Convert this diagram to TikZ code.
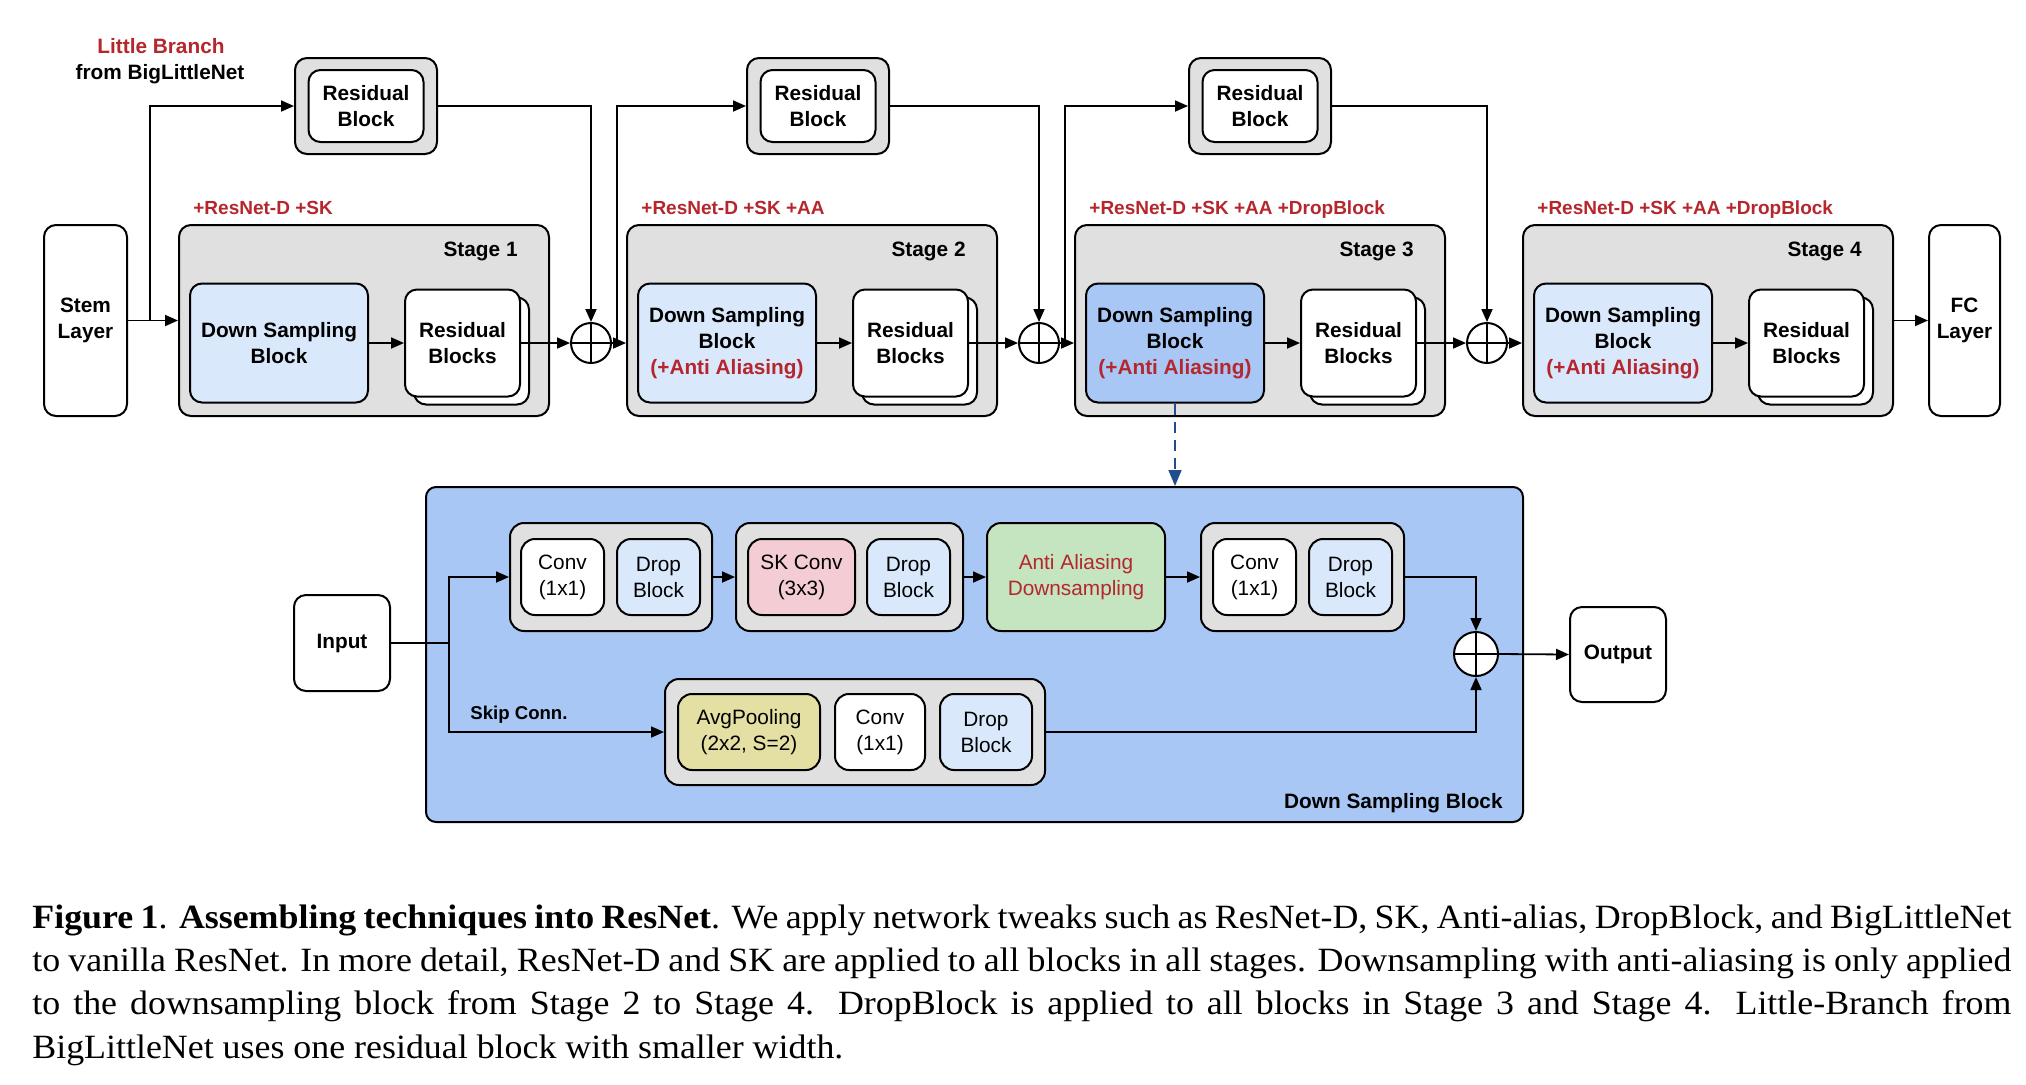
\documentclass[tikz,border=0pt]{standalone}
\usepackage{fontspec}
\setmainfont{Liberation Serif}
\newfontfamily\capfont[FakeStretch=1.055]{Liberation Serif}
\newfontfamily\arial{Liberation Sans}
\usetikzlibrary{arrows.meta,calc}
\definecolor{grayfill}{HTML}{E0E0E0}
\definecolor{lblue}{HTML}{DAE8FC}
\definecolor{mblue}{HTML}{A8C7F5}
\definecolor{pinkf}{HTML}{F3CDD3}
\definecolor{greenf}{HTML}{C5E4C0}
\definecolor{yellowf}{HTML}{E4DFA2}
\definecolor{redt}{HTML}{B5272D}
\definecolor{dashb}{HTML}{1F4E8C}
\begin{document}
\begin{tikzpicture}[x=0.5pt,y=-0.5pt,
  wh/.style 2 args={minimum width=#1pt, minimum height=#2pt},
  bfnt/.style={font=\arial\fontsize{10.4}{13}\selectfont\bfseries},
  rfnt/.style={font=\arial\fontsize{10.4}{13}\selectfont},
  grp/.style={draw, line width=1pt, fill=grayfill, rounded corners=6pt, inner sep=0pt},
  blk/.style={draw, line width=1pt, fill=white, rounded corners=6pt, inner sep=0pt, align=center},
  conn/.style={line width=0.9pt, -{Triangle[length=6.5pt,width=5.5pt]}},
  plain/.style={line width=0.9pt},
  oplus/.style={circle, draw, line width=1pt, fill=white, inner sep=0pt, minimum size=#1,
    path picture={\draw[line width=1pt] (path picture bounding box.north) -- (path picture bounding box.south)
      (path picture bounding box.west) -- (path picture bounding box.east);}},
  redlab/.style={font=\arial\fontsize{9.5}{11}\selectfont\bfseries, text=redt, inner sep=0pt},
  stlab/.style={bfnt, inner sep=0pt},
  dashconn/.style={line width=0.8pt, draw=dashb, dash pattern=on 5.5pt off 3.5pt, -{Triangle[length=8pt,width=6.5pt,fill=dashb]}}
]
\useasboundingbox (0,0) rectangle (2026,1084);
\fill[white] (0,0) rectangle (2026,1084);

% ---------- top texts ----------
\node[bfnt, text=redt, anchor=base, inner sep=0pt] (lb1) at (161,53) {Little Branch};
\node[bfnt, anchor=base, inner sep=0pt] (lb2) at (160,79) {from BigLittleNet};

% ---------- little branch residual blocks ----------
\foreach \i/\x in {1/366, 2/818, 3/1260} {
  \node[grp, wh={71}{48}] (rg\i) at (\x,106) {};
  \node[blk, bfnt, wh={57.5}{36}] (rgi\i) at (\x,106) {Residual\\Block};
}

% ---------- stem and FC ----------
\node[blk, bfnt, wh={41.5}{95.5}] (stem) at (85.5,320.5) {Stem\\Layer};
\node[blk, bfnt, wh={35.5}{95.5}] (fc) at (1964.5,320.5) {FC\\Layer};

% ---------- stages ----------
\foreach \i/\c/\lab in {1/364/{+ResNet-D +SK}, 2/812/{+ResNet-D +SK +AA}, 3/1260/{+ResNet-D +SK +AA +DropBlock}, 4/1708/{+ResNet-D +SK +AA +DropBlock}} {
  \node[grp, wh={185}{95.5}] (st\i) at (\c,320.5) {};
  \node[stlab, anchor=base east] (stl\i) at (\c+154,256) {Stage \i};
  \node[redlab, anchor=base west] (rl\i) at (\c-171,214) {\lab};
  \node[blk, wh={57.5}{53.5}] (rb\i) at (\c+107.5,351) {};
  \node[blk, bfnt, wh={57.5}{53.5}] (rf\i) at (\c+98.5,343) {Residual\\Blocks};
}
\node[blk, bfnt, fill=lblue, wh={89}{59.5}] (dsb1) at (279,343) {Down Sampling\\Block};
\node[blk, bfnt, fill=lblue, wh={89}{59.5}] (dsb2) at (727,343) {Down Sampling\\Block\\\textcolor{redt}{(+Anti Aliasing)}};
\node[blk, bfnt, fill=mblue, wh={89}{59.5}] (dsb3) at (1175,343) {Down Sampling\\Block\\\textcolor{redt}{(+Anti Aliasing)}};
\node[blk, bfnt, fill=lblue, wh={89}{59.5}] (dsb4) at (1623,343) {Down Sampling\\Block\\\textcolor{redt}{(+Anti Aliasing)}};

% ---------- plus nodes ----------
\node[oplus=20pt] (p1) at (591,343) {};
\node[oplus=20pt] (p2) at (1039,343) {};
\node[oplus=20pt] (p3) at (1487,343) {};

% ---------- top connectors ----------
\coordinate (b1) at (150,320.5);
\coordinate (b2) at (617,343);
\coordinate (b3) at (1065,343);
\draw[conn] (stem.east) -- (st1.west);
\draw[conn] (b1) |- (rg1.west);
\draw[conn] (b2) |- (rg2.west);
\draw[conn] (b3) |- (rg3.west);
\draw[conn] (rg1.east) -| (p1.north);
\draw[conn] (rg2.east) -| (p2.north);
\draw[conn] (rg3.east) -| (p3.north);
\foreach \i in {1,2,3,4} { \draw[conn] (dsb\i.east) -- (rf\i.west); }
\draw[conn] (rf1.east) -- (p1.west);
\draw[conn] (rf2.east) -- (p2.west);
\draw[conn] (rf3.east) -- (p3.west);
\draw[conn] (p1.east) -- (p1 -| st2.west);
\draw[conn] (p2.east) -- (p2 -| st3.west);
\draw[conn] (p3.east) -- (p3 -| st4.west);
\draw[conn] (st4.east) -- (fc.west);

% ---------- lower detail ----------
\node[draw, line width=1pt, fill=mblue, rounded corners=5pt, inner sep=0pt, wh={548.5}{167.5}] (big) at (974.5,654.5) {};
\node[bfnt, anchor=base east, inner sep=0pt] (bigl) at (1503,808) {Down Sampling Block};
\draw[dashconn] (dsb3.south) -- (dsb3.south |- big.north);

\node[blk, bfnt, wh={48}{48}] (inp) at (342,643) {Input};
\node[blk, bfnt, wh={48}{47.5}] (out) at (1618,654.5) {Output};

\node[grp, rounded corners=7pt, wh={101}{54}] (gA) at (611,577) {};
\node[blk, rfnt, rounded corners=7pt, wh={41.5}{38}] (convA) at (562.5,577) {Conv\\(1x1)};
\node[blk, rfnt, rounded corners=7pt, fill=lblue, wh={41.5}{38}] (dropA) at (658.5,577) {Drop\\Block};

\node[grp, rounded corners=7pt, wh={113.5}{54}] (gB) at (849.5,577) {};
\node[blk, rfnt, rounded corners=7pt, fill=pinkf, wh={53.5}{38}] (sk) at (801.5,577) {SK Conv\\(3x3)};
\node[blk, rfnt, rounded corners=7pt, fill=lblue, wh={41.5}{38}] (dropB) at (908.5,577) {Drop\\Block};

\node[blk, rfnt, rounded corners=7pt, fill=greenf, text=redt, wh={89}{54}] (aa) at (1076,577) {Anti Aliasing\\Downsampling};

\node[grp, rounded corners=7pt, wh={101.5}{54}] (gD) at (1302.5,577) {};
\node[blk, rfnt, rounded corners=7pt, wh={41.5}{38}] (convD) at (1254.5,577) {Conv\\(1x1)};
\node[blk, rfnt, rounded corners=7pt, fill=lblue, wh={41.5}{38}] (dropD) at (1350.5,577) {Drop\\Block};

\node[grp, rounded corners=7pt, wh={190}{53}] (gC) at (855,732) {};
\node[blk, rfnt, rounded corners=7pt, fill=yellowf, wh={71}{38}] (avg) at (749,732) {AvgPooling\\(2x2, S=2)};
\node[blk, rfnt, rounded corners=7pt, wh={45}{38}] (convC) at (880,732) {Conv\\(1x1)};
\node[blk, rfnt, rounded corners=7pt, fill=lblue, wh={46}{38}] (dropC) at (986,732) {Drop\\Block};

\node[oplus=22pt] (pl) at (1476,654) {};
\node[font=\arial\fontsize{9.3}{11}\selectfont\bfseries, anchor=base west, inner sep=0pt] (skip) at (470,719) {Skip Conn.};

\coordinate (j) at (449,643);
\draw[plain] (inp.east) -- (j);
\draw[conn] (j) |- (gA.west);
\draw[conn] (j) |- (gC.west);
\draw[conn] (gA.east) -- (gB.west);
\draw[conn] (gB.east) -- (aa.west);
\draw[conn] (aa.east) -- (gD.west);
\draw[conn] (gD.east) -| (pl.north);
\draw[conn] (gC.east) -| (pl.south);
\draw[conn] (pl.east) -- (out.west);

% ---------- caption ----------
\node[anchor=north west, inner sep=0pt, text width=989.5pt, align=justify,
  font=\capfont\fontsize{17}{21.7}\selectfont] (cap) at (32,904) {\noindent\textbf{Figure 1}. \textbf{Assembling techniques into ResNet}. We apply network tweaks such as ResNet-D, SK, Anti-alias, DropBlock, and BigLittleNet\linebreak to vanilla ResNet. In more detail, ResNet-D and SK are applied to all blocks in all stages. Downsampling with anti-aliasing is only applied\linebreak to the downsampling block from Stage 2 to Stage 4. DropBlock is applied to all blocks in Stage 3 and Stage 4. Little-Branch from\linebreak BigLittleNet uses one residual block with smaller width.};
\end{tikzpicture}
\end{document}
